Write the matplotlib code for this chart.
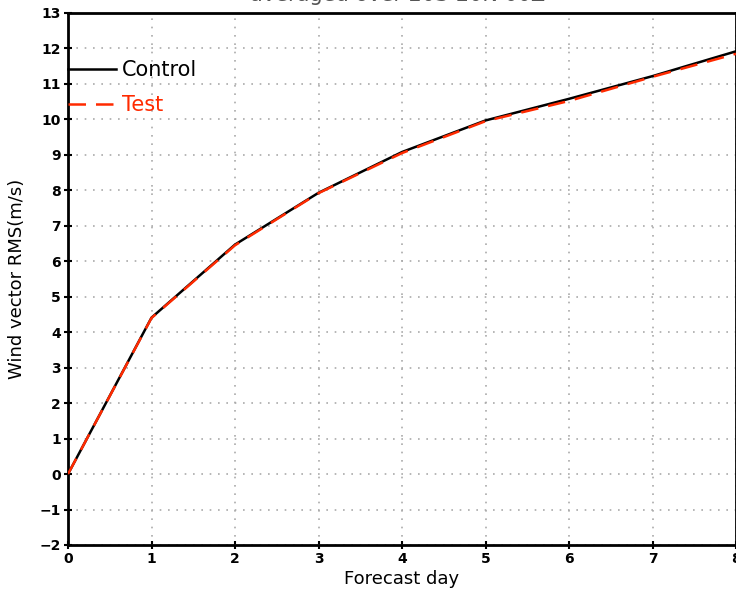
import numpy as np
import matplotlib
matplotlib.use('Agg')
import matplotlib.pyplot as plt

days = [0, 1, 2, 3, 4, 5, 6, 7, 8]
control = [0.0, 4.41, 6.47, 7.93, 9.08, 9.97, 10.58, 11.22, 11.92]
test = [0.0, 4.40, 6.45, 7.92, 9.05, 9.95, 10.52, 11.20, 11.85]

title = 'averaged over 20S-20N 00Z'

fig = plt.figure(figsize=(7.36, 5.97), dpi=100)
ax = fig.add_axes([68/736, 1 - 545/597, 1 - 68/736, (545 - 13)/597])

ax.plot(days, control, color='black', lw=1.8, label='Control', zorder=3)
ax.plot(days, test, color='#ff2a00', lw=1.8, ls=(0, (7, 4)), label='Test', zorder=4)

ax.set_xlim(0, 8)
ax.set_ylim(-2, 13)
ax.set_xticks(range(0, 9))
ax.set_yticks(range(-2, 14))
ax.grid(True, color='#aaaaaa', ls=(0, (1, 4)), lw=1.2)
for s in ax.spines.values():
    s.set_linewidth(2)
ax.tick_params(axis='both', direction='inout', length=6, width=1.5, labelsize=10, pad=2)
for lab in ax.get_xticklabels() + ax.get_yticklabels():
    lab.set_fontweight('bold')

ax.set_xlabel('Forecast day', fontsize=13, labelpad=3)
ax.set_ylabel('Wind vector RMS(m/s)', fontsize=13, labelpad=10)

leg = ax.legend(loc='upper left', bbox_to_anchor=(0, 0.912), frameon=False,
                fontsize=15, handlelength=2.3, handletextpad=0.3,
                labelspacing=0.75, borderpad=0, borderaxespad=0)
for txt, c in zip(leg.get_texts(), ['black', '#ff2a00']):
    txt.set_color(c)

fig.text(0.54, 1 - 1/597, title, ha='center', va='baseline', fontsize=15, color='#555555')

fig.savefig('out.png', dpi=100)
